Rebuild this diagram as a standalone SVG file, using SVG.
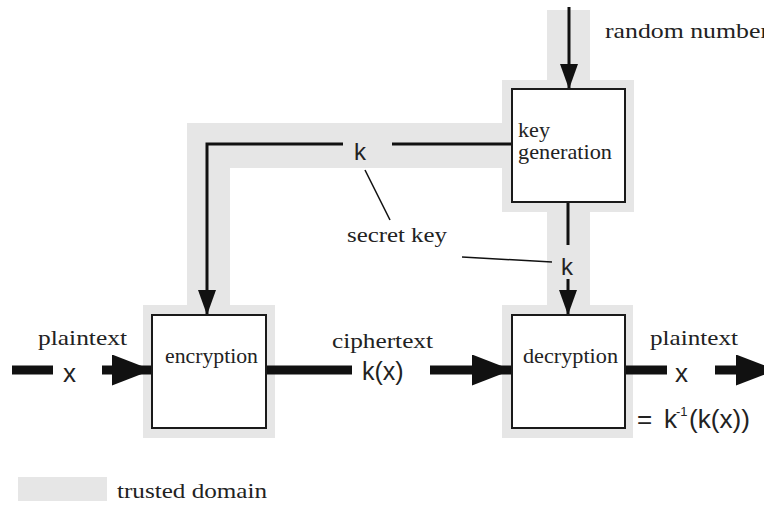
<svg xmlns="http://www.w3.org/2000/svg" width="764" height="505" viewBox="0 0 764 505">
  <style>
    .dom { fill: #e6e6e6; }
    .box { fill: #ffffff; stroke: #1a1a1a; stroke-width: 2; }
    .thin { stroke: #111; stroke-width: 3; fill: none; }
    .thick { stroke: #111; stroke-width: 9; fill: none; }
    .lead { stroke: #111; stroke-width: 1.5; fill: none; }
    .ser { font-family: "Liberation Serif", "Times New Roman", serif; fill: #222; font-size: 21px; }
    .sans { font-family: "Liberation Sans", Arial, sans-serif; fill: #222; }
  </style>
  <defs>
    <marker id="headThin" markerUnits="userSpaceOnUse" markerWidth="26" markerHeight="20" refX="25" refY="9" orient="auto">
      <path d="M0,0 L25,9 L0,18 z" fill="#111"/>
    </marker>
    <marker id="headThick" markerUnits="userSpaceOnUse" markerWidth="42" markerHeight="32" refX="40" refY="15.5" orient="auto">
      <path d="M0,0 L40,15.5 L0,31 z" fill="#111"/>
    </marker>
  </defs>

  <!-- trusted domain shading -->
  <g id="domain">
    <rect class="dom" x="547" y="10" width="43" height="72"/>
    <rect class="dom" x="502" y="80" width="132" height="132"/>
    <rect class="dom" x="187" y="123" width="317" height="45"/>
    <rect class="dom" x="187" y="123" width="43" height="184"/>
    <rect class="dom" x="143" y="305" width="132" height="133"/>
    <rect class="dom" x="547" y="210" width="43" height="97"/>
    <rect class="dom" x="502" y="305" width="131" height="133"/>
  </g>

  <!-- connectors -->
  <g id="connectors">
    <line class="thin" x1="569" y1="7" x2="569" y2="89" marker-end="url(#headThin)"/>
    <polyline class="thin" points="343,144 207,144 207,315" marker-end="url(#headThin)"/>
    <line class="thin" x1="392" y1="144" x2="512" y2="144"/>
    <line class="thin" x1="568" y1="202" x2="568" y2="245"/>
    <line class="thin" x1="568" y1="279" x2="568" y2="315" marker-end="url(#headThin)"/>
    <line class="thick" x1="12" y1="370" x2="53" y2="370"/>
    <line class="thick" x1="102" y1="370" x2="152" y2="370" marker-end="url(#headThick)"/>
    <line class="thick" x1="266" y1="370" x2="352" y2="370"/>
    <line class="thick" x1="430" y1="370" x2="512" y2="370" marker-end="url(#headThick)"/>
    <line class="thick" x1="625" y1="370" x2="667" y2="370"/>
    <line class="thick" x1="715" y1="370" x2="776" y2="370" marker-end="url(#headThick)"/>
    <line class="lead" x1="365" y1="170" x2="390" y2="220"/>
    <line class="lead" x1="462" y1="257" x2="552" y2="262"/>
  </g>

  <g id="keygen">
    <rect class="box" x="512" y="89" width="113" height="113"/>
    <text class="ser" x="518" y="137" font-size="20" textLength="32" lengthAdjust="spacingAndGlyphs">key</text>
    <text class="ser" x="518" y="159" font-size="20" textLength="94" lengthAdjust="spacingAndGlyphs">generation</text>
  </g>

  <g id="encryption">
    <rect class="box" x="152" y="315" width="114" height="113"/>
    <text class="ser" x="165" y="363" textLength="93" lengthAdjust="spacingAndGlyphs">encryption</text>
  </g>

  <g id="decryption">
    <rect class="box" x="512" y="315" width="113" height="113"/>
    <text class="ser" x="523" y="363" textLength="95" lengthAdjust="spacingAndGlyphs">decryption</text>
  </g>

  <!-- labels -->
  <g id="labels">
    <text class="ser" x="605" y="38" textLength="164" lengthAdjust="spacingAndGlyphs">random number</text>
    <text class="sans" x="354" y="160" font-size="24">k</text>
    <text class="ser" x="347" y="242" textLength="100" lengthAdjust="spacingAndGlyphs">secret key</text>
    <text class="sans" x="561" y="275" font-size="24">k</text>
    <text class="ser" x="38" y="345" textLength="89" lengthAdjust="spacingAndGlyphs">plaintext</text>
    <text class="sans" x="63" y="382" font-size="26">x</text>
    <text class="ser" x="332" y="348" textLength="101" lengthAdjust="spacingAndGlyphs">ciphertext</text>
    <text class="sans" x="362" y="380" font-size="25">k(x)</text>
    <text class="ser" x="650" y="345" textLength="88" lengthAdjust="spacingAndGlyphs">plaintext</text>
    <text class="sans" x="675" y="382" font-size="26">x</text>
    <text class="sans" x="637" y="428" font-size="26">=<tspan x="664">k</tspan><tspan x="676" dy="-12" font-size="13">-1</tspan><tspan x="689" dy="12" textLength="61" lengthAdjust="spacingAndGlyphs">(k(x))</tspan></text>
  </g>

  <!-- legend -->
  <g id="legend">
    <rect class="dom" x="18" y="477" width="89" height="24"/>
    <text class="ser" x="117" y="498" textLength="150" lengthAdjust="spacingAndGlyphs">trusted domain</text>
  </g>
</svg>
